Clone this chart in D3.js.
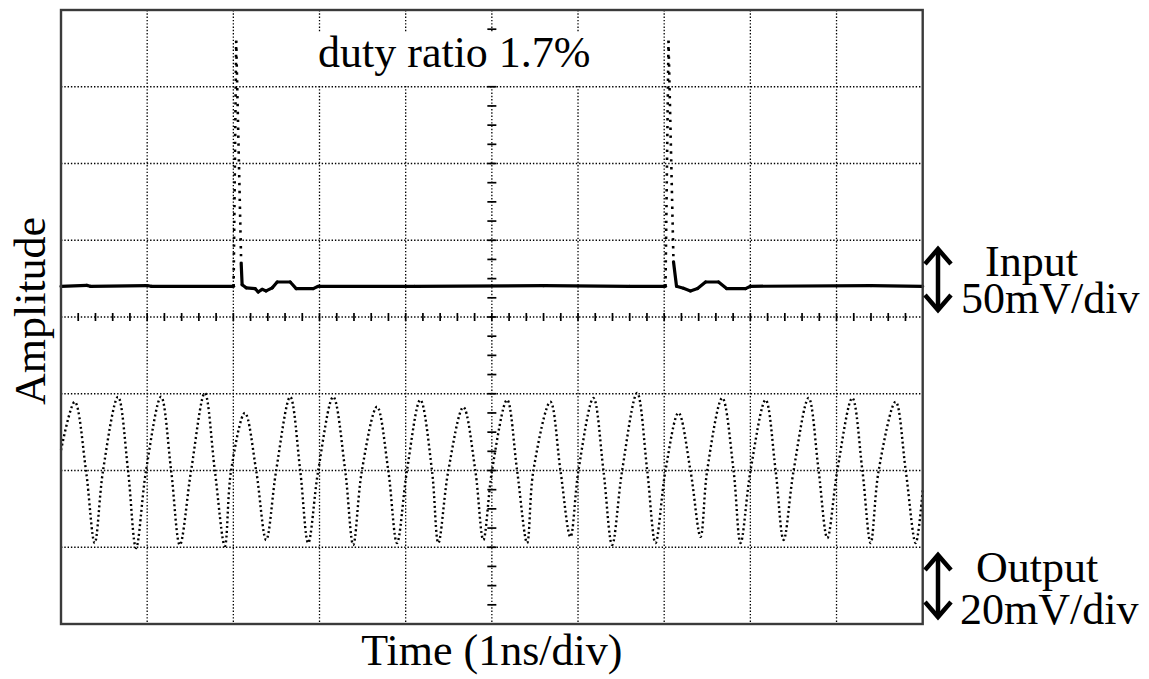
<!DOCTYPE html>
<html>
<head>
<meta charset="utf-8">
<script src="https://cdn.jsdelivr.net/npm/d3@7/dist/d3.min.js"></script>
<style>
  html, body { margin: 0; padding: 0; background: #fff; }
  svg { display: block; }
  text { font-family: "Liberation Serif", "Times New Roman", serif; fill: #000; }
</style>
</head>
<body>
<svg id="scope" width="1149" height="679"></svg>
<script>
// Graticule: 10 horizontal divisions (1 ns/div), 8 vertical divisions
const timeDivs = [0, 1, 2, 3, 4, 5, 6, 7, 8, 9, 10];
const ampDivs = [-4, -3, -2, -1, 0, 1, 2, 3, 4];

// Channel settings
const inputScale = 50;     // mV/div
const outputScale = 20;    // mV/div
const inputOffset = 0.4;   // trace zero position, divisions
const outputOffset = -2;   // trace zero position, divisions

// Input pulse train: [time ns, mV]
const inputTrace = [
  [0.00, 0], [0.30, 0.6], [0.34, 0], [1.00, 0.5], [1.05, 0],
  [2.003, 0], [2.033, 160], [2.091, 15], [2.102, 1], [2.149, -1],
  [2.253, -1.5], [2.288, -3.7], [2.334, -2], [2.381, -3], [2.451, -1],
  [2.509, 2.8], [2.660, 2.8], [2.729, -1.5], [2.927, -1.5], [2.985, 0],
  [4.10, 0], [5.60, 0.4], [6.60, 0],
  [7.015, 0], [7.050, 160], [7.108, 16], [7.143, 0], [7.224, -1.3],
  [7.305, -3], [7.387, -1.5], [7.480, 2.8], [7.631, 2.8], [7.724, -1.5],
  [7.944, -1.5], [8.002, 0], [9.40, 0.5], [10.0, 0]
];

// Output waveform: [time ns, mV]
const outputTrace = [
  [0.000, 5.3], [0.159, 17.9], [0.290, 0], [0.391, -18.9], [0.488, 0],
  [0.662, 19.2], [0.778, 0], [0.871, -20.2], [0.987, 0], [1.161, 19.2],
  [1.278, 0], [1.379, -19.4], [1.510, 0], [1.669, 20.2], [1.785, 0],
  [1.901, -19.7], [1.974, 0], [2.134, 15.0], [2.265, 0], [2.381, -18.1],
  [2.497, 0], [2.660, 19.2], [2.776, 0], [2.869, -18.9], [2.985, 0],
  [3.159, 19.2], [3.298, 0], [3.391, -19.4], [3.492, 0], [3.667, 16.6],
  [3.798, 0], [3.899, -18.9], [4.015, 0], [4.170, 18.4], [4.305, 0],
  [4.379, -18.9], [4.495, 0], [4.669, 16.5], [4.808, 0], [4.901, -18.1],
  [5.002, 0], [5.177, 18.4], [5.293, 0], [5.409, -18.9], [5.482, 0],
  [5.679, 17.9], [5.796, 0], [5.912, -17.3], [6.005, 0], [6.179, 18.9],
  [6.295, 0], [6.396, -19.4], [6.512, 0], [6.686, 20.2], [6.803, 0],
  [6.899, -18.9], [7.015, 0], [7.166, 15.0], [7.305, 0], [7.422, -17.3],
  [7.499, 0], [7.674, 18.9], [7.805, 0], [7.886, -18.9], [8.002, 0],
  [8.177, 18.4], [8.293, 0], [8.386, -18.1], [8.502, 0], [8.676, 18.9],
  [8.792, 0], [8.893, -17.6], [9.009, 0], [9.183, 18.9], [9.300, 0],
  [9.396, -18.9], [9.489, 0], [9.686, 17.9], [9.803, 0], [9.919, -18.9],
  [10.0, -5.1]
];

const svg = d3.select("#scope");
const plotLeft = 61, plotRight = 922.7, plotTop = 10, plotBottom = 624;

const x = d3.scaleLinear().domain([0, 10]).range([plotLeft, plotRight]);
const y = d3.scaleLinear().domain([-4, 4]).range([plotBottom, plotTop]);
const yIn = v => y(inputOffset + v / inputScale);
const yOut = v => y(outputOffset + v / outputScale);

// Dotted graticule
const grid = svg.append("g")
  .attr("stroke", "#000").attr("stroke-width", 1.3).attr("stroke-dasharray", "1.4 1.9");
grid.selectAll("line.v").data(timeDivs.slice(1, -1)).join("line")
  .attr("x1", d => x(d)).attr("x2", d => x(d)).attr("y1", plotTop).attr("y2", plotBottom);
grid.selectAll("line.h").data(ampDivs.slice(1, -1)).join("line")
  .attr("x1", plotLeft).attr("x2", plotRight).attr("y1", d => y(d)).attr("y2", d => y(d));

// Minor ticks on the centre axes
const ticks = svg.append("g").attr("stroke", "#000").attr("stroke-width", 1.7);
ticks.selectAll("line.tx").data(d3.range(0.2, 10, 0.2)).join("line")
  .attr("x1", d => x(d)).attr("x2", d => x(d))
  .attr("y1", y(0) - 4).attr("y2", y(0) + 4);
ticks.selectAll("line.ty").data(d3.range(-3.75, 4, 0.25)).join("line")
  .attr("x1", x(5) - 4.5).attr("x2", x(5) + 4.5)
  .attr("y1", d => y(d)).attr("y2", d => y(d));

// Annotation box
svg.append("rect").attr("x", 316).attr("y", 33).attr("width", 288).attr("height", 52).attr("fill", "#fff");
svg.append("text").attr("x", 318).attr("y", 67).attr("font-size", 44).text("duty ratio 1.7%");

// Output trace, dotted
svg.append("path")
  .datum(outputTrace)
  .attr("fill", "none").attr("stroke", "#000").attr("stroke-width", 2.4)
  .attr("stroke-dasharray", "2 2.8")
  .attr("d", d3.line().x(d => x(d[0])).y(d => yOut(d[1])).curve(d3.curveCatmullRom.alpha(0.5)));

// Input trace: slow parts solid, fast edges dotted
const pairs = d3.pairs(inputTrace);
const seg = d3.line().x(d => x(d[0])).y(d => yIn(d[1]));
const fast = d => Math.abs(yIn(d[1][1]) - yIn(d[0][1])) > 60;
svg.append("g").selectAll("path").data(pairs).join("path")
  .attr("fill", "none").attr("stroke", "#000")
  .attr("stroke-linecap", d => fast(d) ? "butt" : "round")
  .attr("stroke-width", d => fast(d) ? 2.6 : 3.2)
  .attr("stroke-dasharray", d => fast(d) ? "2.4 5.5" : null)
  .attr("d", d => seg(d));

// Screen frame
svg.append("rect").attr("x", plotLeft).attr("y", plotTop)
  .attr("width", plotRight - plotLeft).attr("height", plotBottom - plotTop)
  .attr("fill", "none").attr("stroke", "#3a3a3a").attr("stroke-width", 2.4);

// Axis titles
svg.append("text").attr("x", x(5)).attr("y", 665).attr("text-anchor", "middle").attr("font-size", 44)
  .text("Time (1ns/div)");
svg.append("text").attr("transform", "translate(45,311) rotate(-90)")
  .attr("text-anchor", "middle").attr("font-size", 44).text("Amplitude");

// Channel scale markers
function vArrow(cx, y1, y2) {
  const g = svg.append("g").attr("fill", "none").attr("stroke", "#000").attr("stroke-width", 4.5)
    .attr("stroke-linejoin", "miter");
  g.append("line").attr("x1", cx).attr("x2", cx).attr("y1", y1 + 3).attr("y2", y2 - 3);
  g.append("polyline").attr("points", [[cx - 13, y1 + 18], [cx, y1 + 3], [cx + 13, y1 + 18]].join(" "));
  g.append("polyline").attr("points", [[cx - 13, y2 - 18], [cx, y2 - 3], [cx + 13, y2 - 18]].join(" "));
}
vArrow(938, 246, 313);
vArrow(938, 552, 620);

svg.append("text").attr("x", 985).attr("y", 276).attr("font-size", 44).text("Input");
svg.append("text").attr("x", 961).attr("y", 313).attr("font-size", 44).text("50mV/div");
svg.append("text").attr("x", 976).attr("y", 582).attr("font-size", 44).text("Output");
svg.append("text").attr("x", 960).attr("y", 624).attr("font-size", 44).text("20mV/div");
</script>
</body>
</html>
